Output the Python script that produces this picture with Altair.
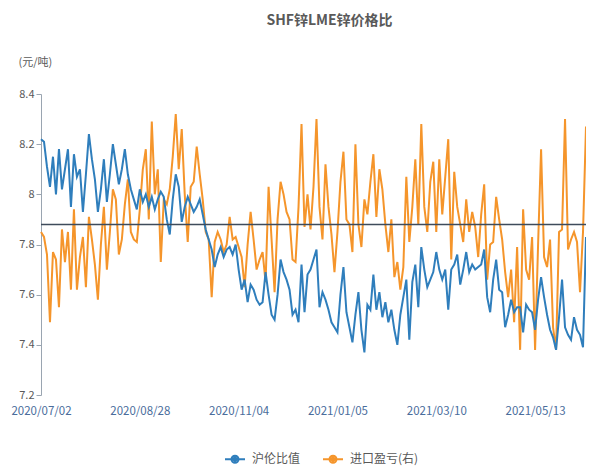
import altair as alt
import pandas as pd

title_text = "SHF锌LME锌价格比"
unit_text = "(元/吨)"
series_names = ["沪伦比值", "进口盈亏(右)"]
series_colors = ["#2f7ebc", "#f5952b"]
tick_dates = ["2020/07/02", "2020/08/28", "2020/11/04", "2021/01/05", "2021/03/10", "2021/05/13"]
tick_index = [0, 33, 66, 99, 132, 165]
y_ticks = [7.2, 7.4, 7.6, 7.8, 8.0, 8.2, 8.4]
cross_value = 7.88

ratio = [
    8.22, 8.21, 8.11, 8.03, 8.15, 8.00, 8.18, 8.02, 8.10, 8.18,
    7.95, 8.16, 8.07, 8.10, 7.93, 8.08, 8.24, 8.14, 8.06, 7.93,
    8.02, 8.14, 7.97, 8.08, 8.20, 8.12, 8.04, 8.10, 8.18, 8.08,
    8.02, 7.98, 7.94, 8.02, 7.97, 8.00, 7.95, 7.99, 7.94, 7.98,
    8.01, 7.99, 7.90, 7.84, 7.98, 8.08, 8.03, 7.89, 7.95, 7.99,
    7.96, 7.93, 7.95, 7.98, 7.92, 7.86, 7.82, 7.78, 7.71, 7.76,
    7.79, 7.75, 7.78, 7.79, 7.76, 7.80, 7.70, 7.62, 7.66, 7.57,
    7.64, 7.62, 7.58, 7.56, 7.57, 7.69, 7.60, 7.52, 7.50, 7.60,
    7.74, 7.69, 7.66, 7.62, 7.52, 7.54, 7.49, 7.72, 7.53, 7.68,
    7.70, 7.74, 7.78, 7.55, 7.61, 7.58, 7.54, 7.49, 7.47, 7.45,
    7.60, 7.71, 7.53, 7.47, 7.41, 7.52, 7.61, 7.46, 7.37, 7.56,
    7.54, 7.68, 7.54, 7.61, 7.51, 7.57, 7.49, 7.54, 7.46, 7.40,
    7.52, 7.59, 7.66, 7.42, 7.65, 7.72, 7.55, 7.79, 7.70, 7.63,
    7.66, 7.69, 7.77, 7.70, 7.66, 7.70, 7.54, 7.70, 7.72, 7.76,
    7.64, 7.70, 7.77, 7.69, 7.72, 7.70, 7.71, 7.72, 7.78, 7.59,
    7.53, 7.66, 7.74, 7.62, 7.61, 7.47, 7.52, 7.58, 7.53, 7.55,
    7.55, 7.45, 7.56, 7.54, 7.53, 7.46, 7.58, 7.67, 7.59, 7.52,
    7.46, 7.43, 7.38, 7.51, 7.66, 7.47, 7.44, 7.42, 7.51, 7.46,
    7.44, 7.39, 7.83,
]

profit = [
    7.85, 7.83, 7.76, 7.49, 7.77, 7.74, 7.55, 7.86, 7.73, 7.85,
    7.62, 7.94, 7.62, 7.75, 7.83, 7.63, 7.91, 7.82, 7.72, 7.58,
    7.80, 7.95, 7.70, 7.85, 8.02, 7.98, 7.76, 7.82, 7.96, 8.06,
    7.85, 7.82, 7.81, 7.94, 8.10, 8.18, 7.90, 8.29, 8.00, 8.10,
    7.73, 7.98, 7.96, 8.02, 8.15, 8.32, 8.10, 8.26, 8.00, 7.81,
    8.03, 8.05, 8.19, 8.08, 7.98, 7.85, 7.82, 7.59, 7.81, 7.85,
    7.82, 7.77, 7.80, 7.91, 7.82, 7.83, 7.79, 7.75, 7.63, 7.80,
    7.93, 7.82, 7.70, 7.74, 7.77, 7.65, 8.03, 7.82, 7.61, 7.90,
    8.05, 8.00, 7.93, 7.90, 7.74, 7.73, 7.95, 8.28, 7.87, 8.00,
    7.86, 8.03, 8.30, 7.95, 7.82, 8.12, 7.95, 7.84, 7.69, 7.85,
    8.05, 8.17, 7.90, 7.88, 7.77, 8.20, 7.88, 7.79, 7.98, 7.92,
    8.05, 8.16, 7.91, 8.10, 8.02, 7.88, 7.77, 7.90, 7.67, 7.73,
    7.62, 7.71, 8.07, 7.81, 7.95, 8.14, 7.88, 8.28, 7.95, 7.85,
    8.05, 8.13, 7.85, 8.14, 7.92, 8.07, 8.22, 7.74, 8.09, 7.95,
    7.88, 7.81, 7.98, 7.85, 7.93, 7.87, 7.75, 7.92, 8.04, 7.66,
    7.80, 7.81, 7.99, 7.90, 7.82, 7.69, 7.59, 7.70, 7.49, 7.79,
    7.38, 7.94, 7.70, 7.66, 7.83, 7.38, 7.80, 8.18, 7.75, 7.71,
    7.82, 7.47, 7.38, 7.85, 7.86, 8.30, 7.78, 7.82, 7.85, 7.81,
    7.61, 7.85, 8.27,
]

n = len(ratio)
df = pd.DataFrame({
    "i": list(range(n)) * 2,
    "v": ratio + profit,
    "s": [series_names[0]] * n + [series_names[1]] * n,
})
rule_df = pd.DataFrame({"y": [cross_value]})

label_expr = ""
for idx, d in zip(tick_index, tick_dates):
    label_expr += f"datum.value == {idx} ? '{d}' : "
label_expr += "''"

FONT = "Noto Sans CJK SC"

x_enc = alt.X(
    "i:Q",
    scale=alt.Scale(domain=[0, n - 1], nice=False, zero=False),
    axis=alt.Axis(values=tick_index, labelExpr=label_expr, domain=False, ticks=False,
                  grid=False, labelColor="#4a6d9c", labelFontSize=11.5, labelPadding=10,
                  title=None, labelFlush=False, labelFont=FONT),
)
y_enc = alt.Y(
    "v:Q",
    scale=alt.Scale(domain=[7.2, 8.4], nice=False, zero=False),
    axis=alt.Axis(values=y_ticks, labelExpr="format(datum.value, '.1~f')", grid=False,
                  domainColor="#9aa5b1", tickColor="#9aa5b1", tickSize=5,
                  labelColor="#595959", labelFontSize=11, labelFont=FONT, labelPadding=2,
                  title=unit_text, titleAngle=0, titleAlign="left", titleBaseline="middle",
                  titleX=-23, titleY=-32, titleFontWeight="normal", titleFontSize=11,
                  titleColor="#595959", titleFont=FONT),
)
symbol_path = ("M-1,0H1 M-0.35,0a0.35,0.35 0 1,0 0.7,0a0.35,0.35 0 1,0 -0.7,0 "
               "M-0.15,0a0.15,0.15 0 1,0 0.3,0a0.15,0.15 0 1,0 -0.3,0")
color_enc = alt.Color(
    "s:N",
    scale=alt.Scale(domain=series_names, range=series_colors),
    legend=alt.Legend(title=None, orient="none", direction="horizontal",
                      legendX=183, legendY=354,
                      symbolType=symbol_path, symbolSize=400, symbolStrokeWidth=2,
                      labelFontSize=12, labelColor="#595959", labelFont=FONT,
                      columnPadding=18, labelOffset=6),
)

base = alt.Chart(df).encode(x=x_enc, y=y_enc, color=color_enc)
orange_line = base.transform_filter(alt.datum.s == series_names[1]).mark_line(strokeWidth=2)
blue_line = base.transform_filter(alt.datum.s == series_names[0]).mark_line(strokeWidth=2)
rule = alt.Chart(rule_df).mark_rule(color="#3e4b5b", strokeWidth=1.5).encode(y=alt.Y("y:Q"))

chart = alt.layer(orange_line, blue_line, rule).properties(
    width=545, height=301,
    title=alt.TitleParams(title_text, fontSize=14, fontWeight="bold", color="#595959",
                          anchor="middle", dx=16, offset=28, font=FONT),
    autosize=alt.AutoSizeParams(type="none"),
    padding={"left": 33, "top": 86, "right": 0, "bottom": 72},
).configure_view(stroke=None)

chart.save("out.html", embed_options={"renderer": "svg", "actions": False})
